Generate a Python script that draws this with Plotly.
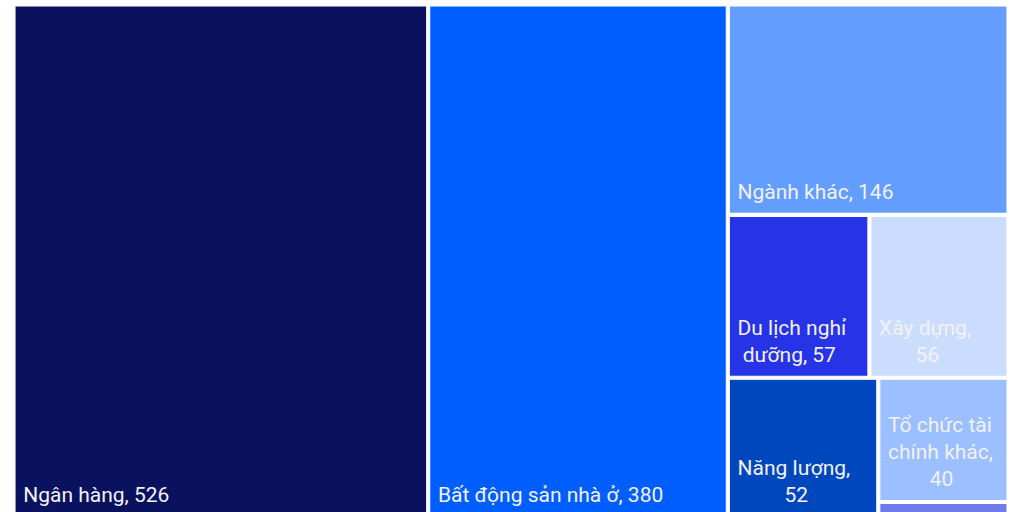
import plotly.graph_objects as go

# Sector breakdown
sectors = ["Ngân hàng", "Bất động sản nhà ở", "Ngành khác", "Du lịch nghỉ dưỡng",
           "Xây dựng", "Năng lượng", "Tổ chức tài chính khác", "Chứng khoán"]
values = [526, 380, 146, 57, 56, 52, 40, 5]
# tile captions, one list entry per line; short lines are centred under longer ones
caption_lines = [["Ngân hàng, 526"], ["Bất động sản nhà ở, 380"], ["Ngành khác, 146"],
                 ["Du lịch nghỉ", "dưỡng, 57"], ["Xây dựng,", "56"], ["Năng lượng,", "52"],
                 ["Tổ chức tài", "chính khác,", "40"], []]
centre_shift = [[0], [0], [0], [0, 1], [0, 7], [0, 9], [0, 0, 8], []]
colors = ["#0A1260", "#005EFF", "#639EFF", "#2633E6",
          "#CBDDFF", "#0047BD", "#9BBFFF", "#707BEB"]

INDENT = "&nbsp;"
# a wide trailing blank lifts the caption off the tile's bottom edge
LIFT = '<span style="font-size:46px">&nbsp;</span>'


def caption(lines, shifts):
    if not lines:
        return ""
    body = "<br>".join(INDENT + "&nbsp;" * s + ln for ln, s in zip(lines, shifts))
    return body + LIFT


tile_text = [caption(l, s) for l, s in zip(caption_lines, centre_shift)]

fig = go.Figure(go.Treemap(
    labels=sectors,
    parents=[""] * len(sectors),
    values=values,
    text=tile_text,
    texttemplate="%{text}",
    textposition="bottom left",
    textfont=dict(family="Roboto", size=21, color="#F2F2F2"),
    marker=dict(colors=colors, line=dict(color="white", width=1.1),
                pad=dict(t=0, l=0, r=0, b=0)),
    pathbar=dict(visible=False),
    sort=True,
    hoverinfo="label+value",
))

fig.update_layout(
    width=1011, height=520,
    margin=dict(l=15, r=4, t=6, b=4),
    paper_bgcolor="white",
)

fig.write_html("out.html")
